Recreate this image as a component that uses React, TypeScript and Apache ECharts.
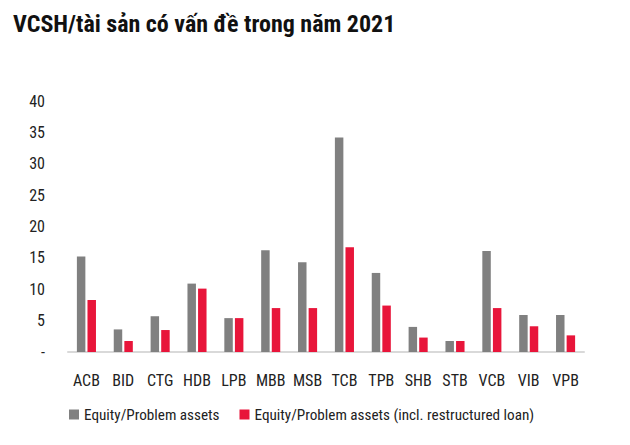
import React, { useEffect, useRef } from "react";
import * as echarts from "echarts";

const categories = ["ACB", "BID", "CTG", "HDB", "LPB", "MBB", "MSB", "TCB", "TPB", "SHB", "STB", "VCB", "VIB", "VPB"];
const equityProblem = [15.2, 3.6, 5.7, 10.9, 5.4, 16.2, 14.3, 34.2, 12.6, 4.0, 1.75, 16.1, 5.9, 5.9];
const equityProblemRestructured = [8.3, 1.75, 3.5, 10.1, 5.4, 7.0, 7.0, 16.7, 7.4, 2.3, 1.75, 7.0, 4.1, 2.65];
const seriesNames = ["Equity/Problem assets", "Equity/Problem assets (incl. restructured loan)"];
const titleText = "VCSH/tài sản có vấn đề trong năm 2021";

const FONT = "'Liberation Sans Narrow', 'Roboto Condensed', Roboto, 'Liberation Sans', Arial, sans-serif";

export default function App() {
  const ref = useRef<HTMLDivElement>(null);
  useEffect(() => {
    const chart = echarts.init(ref.current!, undefined, { renderer: "svg" });
    chart.setOption({
      animation: false,
      backgroundColor: "#ffffff",
      title: {
        text: titleText,
        left: 8,
        top: 7,
        textStyle: { fontFamily: FONT, fontWeight: "bold", fontSize: 24, color: "#111" },
      },
      legend: {
        bottom: 18,
        left: 64,
        itemWidth: 10,
        itemHeight: 10,
        itemGap: 20,
        icon: "rect",
        textStyle: { fontFamily: FONT, fontSize: 15.2, color: "#222" },
        data: seriesNames,
      },
      grid: { left: 68, right: 46, top: 101, bottom: 93 },
      xAxis: {
        type: "category",
        data: categories,
        axisLine: { lineStyle: { color: "#d9d9d9", width: 2 } },
        axisTick: { show: false },
        axisLabel: { fontFamily: FONT, fontSize: 16, color: "#222", margin: 20, interval: 0 },
      },
      yAxis: {
        type: "value",
        min: 0,
        max: 40,
        interval: 5,
        splitLine: { show: false },
        axisLine: { show: false },
        axisTick: { show: false },
        axisLabel: {
          fontFamily: FONT,
          fontSize: 16,
          color: "#222",
          margin: 23,
          formatter: (v: number) => (v === 0 ? "-" : String(v)),
        },
      },
      series: [
        {
          name: seriesNames[0],
          type: "bar",
          data: equityProblem,
          barWidth: "23%",
          barGap: "25%",
          itemStyle: { color: "#808080" },
        },
        {
          name: seriesNames[1],
          type: "bar",
          data: equityProblemRestructured,
          barWidth: "23%",
          itemStyle: { color: "#e8153a" },
        },
      ],
    });
    return () => chart.dispose();
  }, []);
  return <div ref={ref} style={{ width: 630, height: 445, position: "absolute", left: 0, top: 0 }} />;
}
